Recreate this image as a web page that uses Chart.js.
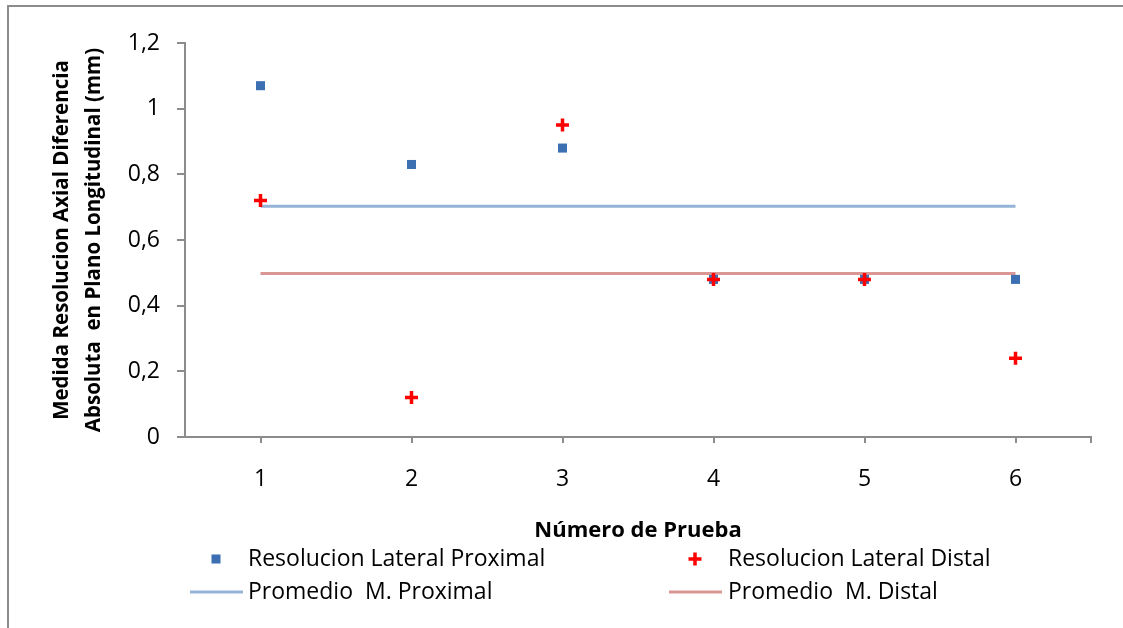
<!DOCTYPE html>
<html>
<head>
<meta charset="utf-8">
<script src="https://cdn.jsdelivr.net/npm/chart.js@4.4.0/dist/chart.umd.min.js"></script>
<style>
  html, body { margin: 0; padding: 0; background: #fff; }
  #wrap { width: 1123px; height: 628px; }
</style>
</head>
<body>
<div id="wrap"><canvas id="chart" width="1123" height="628"></canvas></div>
<script>
const pruebas = [1, 2, 3, 4, 5, 6];
const proximal = [1.07, 0.83, 0.88, 0.48, 0.48, 0.48];
const distal = [0.72, 0.12, 0.95, 0.48, 0.48, 0.24];
const promedioX = [1, 6];
const promedioProximal = [0.703, 0.703];
const promedioDistal = [0.498, 0.498];
const yTicks = [0, 0.2, 0.4, 0.6, 0.8, 1, 1.2];

const FONT = '"Open Sans", "DejaVu Sans", sans-serif';
const AXIS_GREY = '#8c8c8c';

const pts = (xs, ys) => xs.map((x, i) => ({ x: x, y: ys[i] }));

const datasets = [
  {
    label: 'Resolucion Lateral Proximal',
    data: pts(pruebas, proximal),
    pointStyle: 'rect',
    pointRadius: 6.4,
    pointBackgroundColor: '#3c70b3',
    pointBorderColor: '#3c70b3',
    pointBorderWidth: 0,
    showLine: false,
    order: 1
  },
  {
    label: 'Resolucion Lateral Distal',
    data: pts(pruebas, distal),
    pointStyle: 'cross',
    pointRadius: 6.5,
    pointBorderColor: '#ff0000',
    pointBorderWidth: 3.5,
    showLine: false,
    order: 0
  },
  {
    label: 'Promedio  M. Proximal',
    data: pts(promedioX, promedioProximal),
    showLine: true,
    borderColor: '#95b3d7',
    borderWidth: 3,
    pointRadius: 0,
    order: 2
  },
  {
    label: 'Promedio  M. Distal',
    data: pts(promedioX, promedioDistal),
    showLine: true,
    borderColor: '#d99694',
    borderWidth: 3,
    pointRadius: 0,
    order: 2
  }
];

// titles, legend and outer frame are painted by hand
const decor = {
  id: 'decor',
  afterDraw(chart) {
    const ctx = chart.ctx;
    const area = chart.chartArea;
    ctx.save();

    ctx.strokeStyle = AXIS_GREY;
    ctx.lineWidth = 2;
    ctx.strokeRect(8, 6, 1300, 900);

    ctx.fillStyle = '#000';
    ctx.textAlign = 'center';
    ctx.textBaseline = 'middle';
    ctx.font = 'bold 22px ' + FONT;
    ctx.fillText('Número de Prueba', (area.left + area.right) / 2, 531);

    ctx.save();
    ctx.translate(62, (area.top + area.bottom) / 2);
    ctx.rotate(-Math.PI / 2);
    ctx.font = 'bold 20.5px ' + FONT;
    ctx.fillText('Medida Resolucion Axial Diferencia', 0, 0);
    ctx.fillText('Absoluta  en Plano Longitudinal (mm)', 0, 32);
    ctx.restore();

    const items = [
      { ds: 0, x: 216, y: 559, text: 248 },
      { ds: 1, x: 695, y: 559, text: 728 },
      { ds: 2, x: 216, y: 592, text: 248 },
      { ds: 3, x: 695, y: 592, text: 728 }
    ];
    ctx.font = '23px ' + FONT;
    ctx.textAlign = 'left';
    items.forEach(it => {
      const d = chart.data.datasets[it.ds];
      if (d.showLine) {
        ctx.strokeStyle = d.borderColor;
        ctx.lineWidth = d.borderWidth;
        ctx.beginPath();
        ctx.moveTo(it.x - 26, it.y);
        ctx.lineTo(it.x + 27, it.y);
        ctx.stroke();
      } else {
        ctx.fillStyle = d.pointBackgroundColor || d.pointBorderColor;
        ctx.strokeStyle = d.pointBorderColor;
        ctx.lineWidth = d.pointBorderWidth;
        Chart.helpers.drawPoint(ctx, {
          pointStyle: d.pointStyle,
          radius: d.pointRadius,
          rotation: 0,
          borderWidth: d.pointBorderWidth
        }, it.x, it.y);
      }
      ctx.fillStyle = '#000';
      ctx.fillText(d.label, it.text, it.y);
    });

    ctx.restore();
  }
};

new Chart(document.getElementById('chart'), {
  type: 'scatter',
  data: { datasets: datasets },
  plugins: [decor],
  options: {
    responsive: false,
    animation: false,
    devicePixelRatio: 1,
    layout: { padding: { top: 43, right: 32, bottom: 0, left: 0 } },
    plugins: {
      legend: { display: false },
      tooltip: { enabled: false }
    },
    scales: {
      x: {
        type: 'linear',
        min: 0.5,
        max: 6.5,
        afterFit(scale) { scale.height = 191; },
        afterBuildTicks(scale) {
          scale.ticks = pruebas.concat([scale.max]).map(v => ({ value: v }));
        },
        ticks: {
          color: '#000',
          font: { family: FONT, size: 23 },
          padding: 23,
          maxRotation: 0,
          callback: v => (pruebas.includes(v) ? String(v) : '')
        },
        grid: { drawOnChartArea: false, tickLength: 6, color: AXIS_GREY, lineWidth: 2 },
        border: { color: AXIS_GREY, width: 2 }
      },
      y: {
        type: 'linear',
        min: 0,
        max: 1.2,
        afterFit(scale) { scale.width = 185; },
        afterBuildTicks(scale) {
          scale.ticks = yTicks.map(v => ({ value: v }));
        },
        ticks: {
          color: '#000',
          font: { family: FONT, size: 23 },
          padding: 17,
          callback: v => String(+v.toFixed(1)).replace('.', ',')
        },
        grid: { drawOnChartArea: false, tickLength: 8, color: AXIS_GREY, lineWidth: 2 },
        border: { color: AXIS_GREY, width: 2 }
      }
    }
  }
});
</script>
</body>
</html>
